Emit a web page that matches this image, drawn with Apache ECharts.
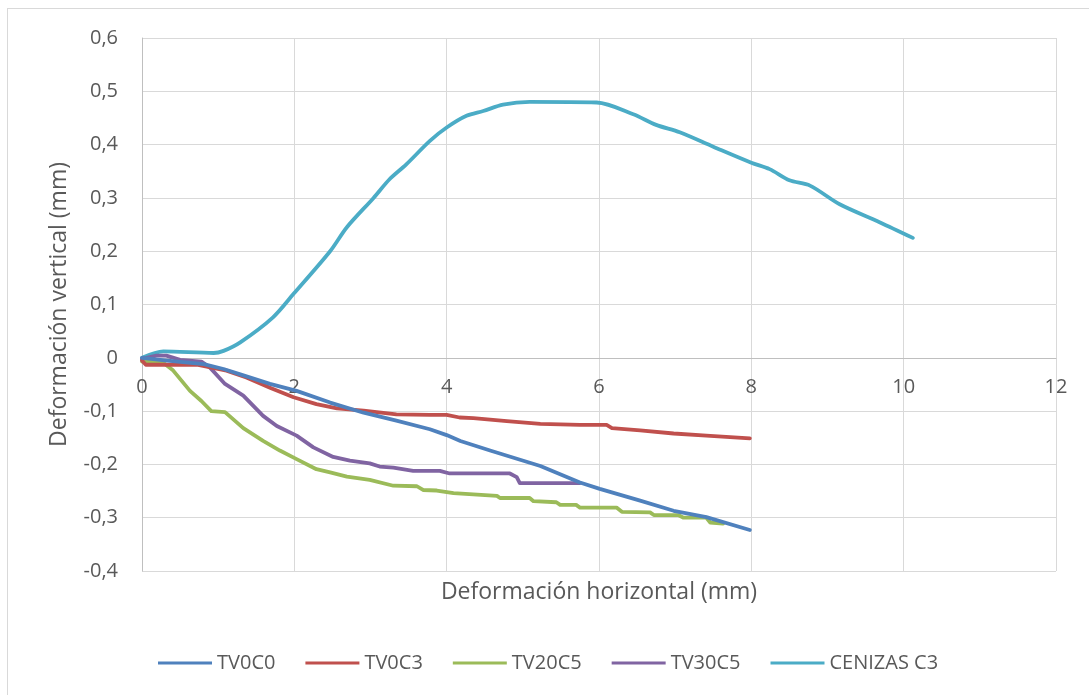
<!DOCTYPE html>
<html>
<head>
<meta charset="utf-8">
<script src="https://cdn.jsdelivr.net/npm/echarts@6/dist/echarts.min.js"></script>
<style>
  html, body { margin: 0; padding: 0; background: #fff; }
  #frame { position: absolute; left: 7px; top: 8px; width: 1100px; height: 700px; border-left: 1px solid #d9d9d9; border-top: 1px solid #d9d9d9; }
  #chart { position: absolute; left: 0; top: 0; width: 1089px; height: 695px; }
</style>
</head>
<body>
<div id="frame"></div>
<div id="chart"></div>
<script>
// Horizontal vs vertical deformation curves (mm), one [x, y] list per specimen
const seriesNames = ['TV0C0', 'TV0C3', 'TV20C5', 'TV30C5', 'CENIZAS C3'];

const tv0c0 = [
  [0, 0], [0.3, -0.005], [0.81, -0.012], [1.07, -0.021], [1.29, -0.031], [1.68, -0.049],
  [2.03, -0.062], [2.47, -0.084], [2.91, -0.103], [3.34, -0.118], [3.78, -0.134], [4.0, -0.145],
  [4.18, -0.156], [4.57, -0.174], [5.23, -0.203], [5.75, -0.234], [6.01, -0.246], [6.54, -0.268],
  [6.98, -0.287], [7.41, -0.299], [7.98, -0.323]
];

const tv0c3 = [
  [0, -0.005], [0.05, -0.013], [0.72, -0.013], [1.11, -0.024], [1.37, -0.037], [1.68, -0.056],
  [1.99, -0.074], [2.29, -0.087], [2.56, -0.095], [2.91, -0.099], [3.34, -0.106], [3.78, -0.107],
  [4.0, -0.107], [4.17, -0.112], [4.35, -0.113], [4.79, -0.119], [5.23, -0.124], [5.75, -0.126],
  [6.1, -0.126], [6.17, -0.132], [6.54, -0.136], [6.98, -0.142], [7.41, -0.146], [7.98, -0.151]
];

const tv20c5 = [
  [0, -0.007], [0.26, -0.007], [0.41, -0.024], [0.63, -0.062], [0.78, -0.081], [0.91, -0.1],
  [1.09, -0.102], [1.33, -0.132], [1.59, -0.156], [1.81, -0.174], [2.03, -0.19], [2.29, -0.209],
  [2.47, -0.215], [2.69, -0.223], [2.99, -0.229], [3.3, -0.24], [3.61, -0.241], [3.69, -0.248],
  [3.87, -0.249], [4.09, -0.254], [4.66, -0.259], [4.7, -0.263], [5.09, -0.263], [5.14, -0.269],
  [5.44, -0.271], [5.49, -0.276], [5.7, -0.276], [5.75, -0.281], [6.23, -0.281], [6.3, -0.289],
  [6.67, -0.29], [6.72, -0.295], [7.04, -0.295], [7.11, -0.3], [7.41, -0.3], [7.46, -0.309],
  [7.63, -0.311]
];

const tv30c5 = [
  [0, -0.002], [0.19, 0.004], [0.32, 0.004], [0.5, -0.004], [0.78, -0.007], [0.89, -0.018],
  [1.09, -0.049], [1.33, -0.071], [1.59, -0.109], [1.77, -0.128], [2.03, -0.146], [2.25, -0.168],
  [2.51, -0.186], [2.73, -0.193], [2.99, -0.198], [3.12, -0.204], [3.3, -0.206], [3.56, -0.212],
  [3.91, -0.212], [4.04, -0.217], [4.83, -0.217], [4.92, -0.224], [4.96, -0.235], [5.75, -0.235]
];

const cenizasC3 = [
  [0, 0], [0.28, 0.012], [0.94, 0.009], [1.07, 0.013], [1.29, 0.029], [1.72, 0.076],
  [1.99, 0.12], [2.47, 0.2], [2.69, 0.245], [3.04, 0.3], [3.25, 0.335], [3.47, 0.363],
  [3.78, 0.407], [4.0, 0.432], [4.26, 0.454], [4.48, 0.463], [4.74, 0.475], [5.09, 0.48],
  [5.97, 0.479], [6.45, 0.457], [6.75, 0.437], [7.06, 0.423], [7.5, 0.396], [8.0, 0.366],
  [8.24, 0.354], [8.5, 0.333], [8.77, 0.323], [9.16, 0.288], [9.69, 0.254], [10.12, 0.225]
];

const seriesData = [tv0c0, tv0c3, tv20c5, tv30c5, cenizasC3];
const colors = ['#4F81BD', '#C0504D', '#9BBB59', '#8064A2', '#4BACC6'];
const smoothing = [0, 0, 0, 0, 0.3];

const font = '"Open Sans", "Noto Sans", sans-serif';
const decimalComma = v => String(Math.round(v * 10) / 10).replace('.', ',');

const chart = echarts.init(document.getElementById('chart'), null, { renderer: 'canvas' });

const gridTop = 38, gridBottom = 124, plotH = 695 - gridTop - gridBottom;
const yMin = -0.4, yMax = 0.6;
// the horizontal axis sits at y = 0, so shift it up from the bottom edge
const zeroShift = -plotH * (0 - yMin) / (yMax - yMin);

chart.setOption({
  animation: false,
  backgroundColor: 'transparent',
  color: colors,
  grid: { left: 142, right: 33, top: gridTop, bottom: gridBottom, containLabel: false },
  xAxis: {
    type: 'value',
    min: 0, max: 12, interval: 2,
    offset: zeroShift,
    axisLine: { onZero: false, lineStyle: { color: '#bfbfbf', width: 1 } },
    axisTick: { show: false },
    axisLabel: { color: '#595959', fontSize: 20, fontFamily: font, margin: 19, formatter: decimalComma },
    splitLine: { show: true, lineStyle: { color: '#d9d9d9', width: 1 } }
  },
  yAxis: {
    type: 'value',
    min: yMin, max: yMax, interval: 0.1,
    name: 'Deformación vertical (mm)',
    nameLocation: 'middle',
    nameGap: 71,
    nameTextStyle: { color: '#595959', fontSize: 23, fontFamily: font },
    axisLine: { show: true, lineStyle: { color: '#bfbfbf', width: 1 } },
    axisTick: { show: false },
    axisLabel: { color: '#595959', fontSize: 20, fontFamily: font, margin: 24, formatter: decimalComma },
    splitLine: { show: true, lineStyle: { color: '#d9d9d9', width: 1 } }
  },
  legend: {
    top: 648,
    left: 153,
    icon: 'rect',
    itemWidth: 54,
    itemHeight: 3,
    itemGap: 30,
    textStyle: { color: '#595959', fontSize: 20, fontFamily: font },
    data: seriesNames
  },
  graphic: [{
    type: 'text',
    x: 599,
    y: 592,
    style: {
      text: 'Deformación horizontal (mm)',
      fill: '#595959',
      font: '23px ' + font,
      align: 'center',
      verticalAlign: 'middle'
    }
  }],
  series: seriesNames.map((name, i) => ({
    name,
    type: 'line',
    data: seriesData[i],
    showSymbol: false,
    smooth: smoothing[i],
    lineStyle: { width: 3.8, color: colors[i], cap: 'round', join: 'round' },
    z: 10 - i
  }))
});
</script>
</body>
</html>
